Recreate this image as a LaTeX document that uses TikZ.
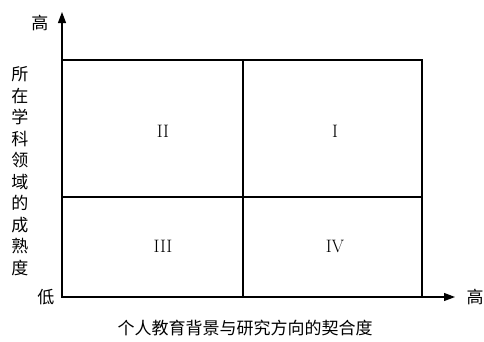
\documentclass[tikz,border=0pt]{standalone}
\usepackage{fontspec}
\newfontfamily\cjk{Noto Sans CJK SC}
\usetikzlibrary{arrows.meta}
\tikzset{
  axislabel/.style={font=\cjk\fontsize{17}{21.5}\selectfont, inner sep=0pt},
  quadlabel/.style={font=\fontsize{18}{20}\selectfont, inner sep=0pt},
  frame/.style={line width=1.1pt},
  axis/.style={line width=1.1pt, -{Triangle[length=11pt,width=8pt]}}
}
\begin{document}
\begin{tikzpicture}[x=1pt,y=1pt]
\useasboundingbox (-62,-44) rectangle (422,297);
% axes
\coordinate (O) at (0,0);
\coordinate (ytip) at (0,285);
\coordinate (xtip) at (393,0);
\draw[axis] (O) -- (ytip);
\draw[axis] (O) -- (xtip);

% the four quadrants
\draw[frame] (0,0) rectangle (360,237);
\draw[frame] (181,0) -- (181,237);
\draw[frame] (0,100) -- (360,100);
\node[quadlabel] (q2) at (101,166) {II};
\node[quadlabel] (q1) at (273,166) {I};
\node[quadlabel] (q3) at (101,51) {III};
\node[quadlabel] (q4) at (273,51) {IV};

% axis labels
\node[axislabel] (yhigh) at (-22,274) {高};
\node[axislabel] (xhigh) at (413,0) {高};
\node[axislabel] (low) at (-16,0) {低};
\node[axislabel, align=center] (ytitle) at (-42,126) {所\\在\\学\\科\\领\\域\\的\\成\\熟\\度};
\node[axislabel] (xtitle) at (183,-31) {个人教育背景与研究方向的契合度};
\end{tikzpicture}
\end{document}
